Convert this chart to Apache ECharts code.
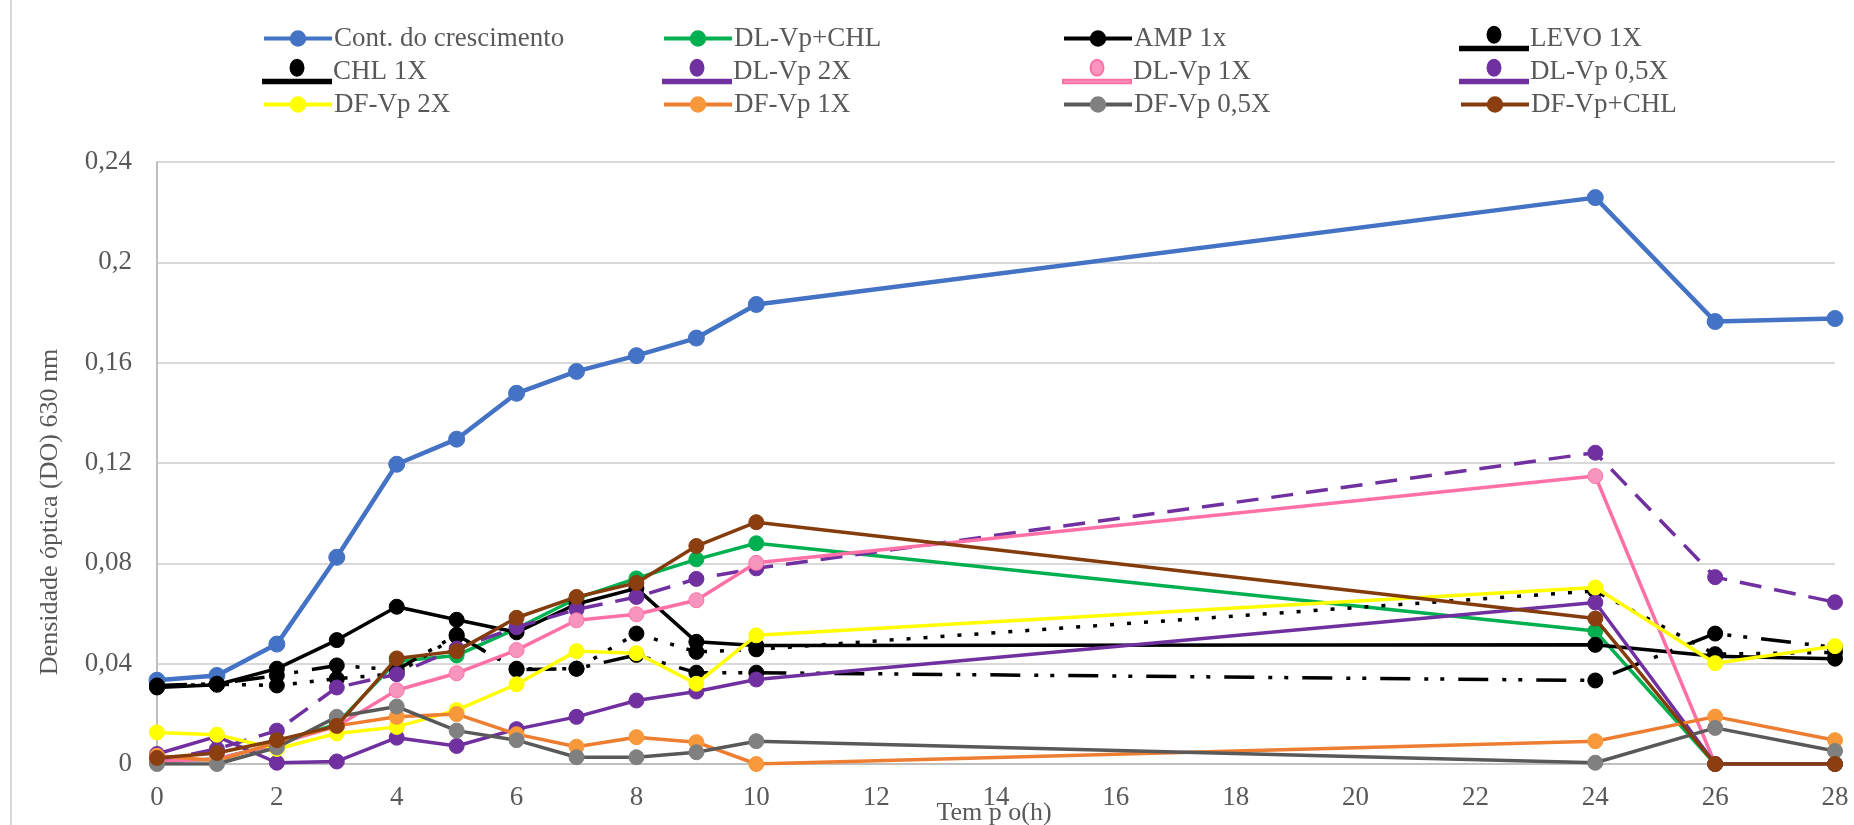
<!DOCTYPE html>
<html>
<head>
<meta charset="utf-8">
<script src="https://cdn.jsdelivr.net/npm/echarts@6/dist/echarts.min.js"></script>
<style>
html,body{margin:0;padding:0;background:#fff;}
#c{width:1854px;height:825px;}
</style>
</head>
<body>
<div id="c"></div>
<script>
// ---- data ----
const hours = [0, 1, 2, 3, 4, 5, 6, 7, 8, 9, 10, 24, 26, 28];
const yTicks = ['0', '0,04', '0,08', '0,12', '0,16', '0,2', '0,24'];
const xTicks = ['0','2','4','6','8','10','12','14','16','18','20','22','24','26','28'];

const contCrescimento = [0.0334, 0.0353, 0.0478, 0.0824, 0.1195, 0.1295, 0.1478, 0.1565, 0.1628, 0.1698, 0.1832, 0.2258, 0.1764, 0.1776];
const dlVpChl        = [0.001, 0.002, 0.008, 0.016, 0.041, 0.0433, 0.054, 0.066, 0.074, 0.0816, 0.088, 0.053, 0, 0];
const amp1x          = [0.0305, 0.0316, 0.038, 0.0494, 0.0627, 0.0575, 0.0525, 0.0638, 0.070, 0.0487, 0.0472, 0.0475, 0.043, 0.042];
const levo1x         = [0.0313, 0.032, 0.0353, 0.0393, 0.0375, 0.0515, 0.0376, 0.038, 0.0435, 0.0364, 0.0364, 0.0333, 0.052, 0.0465];
const chl1x          = [0.031, 0.0318, 0.0313, 0.034, 0.036, 0.051, 0.038, 0.038, 0.052, 0.0447, 0.0457, 0.069, 0.0438, 0.0445];
const dlVp2x         = [0.001, 0.006, 0.0133, 0.0305, 0.0358, 0.046, 0.0545, 0.0616, 0.0666, 0.0738, 0.078, 0.1241, 0.0745, 0.0645];
const dlVp1x         = [0.001, 0.002, 0.008, 0.015, 0.0294, 0.0362, 0.0454, 0.0573, 0.0597, 0.0653, 0.0802, 0.1148, 0, 0];
const dlVp05x        = [0.004, 0.011, 0.0005, 0.001, 0.0105, 0.0072, 0.0139, 0.0188, 0.0253, 0.0289, 0.0337, 0.0644, 0, 0];
const dfVp2x         = [0.0126, 0.0117, 0.006, 0.0122, 0.0148, 0.0215, 0.0318, 0.045, 0.0442, 0.032, 0.0513, 0.0704, 0.0402, 0.047];
const dfVp1x         = [0.0033, 0.0013, 0.0086, 0.0152, 0.0188, 0.0199, 0.0119, 0.0069, 0.0107, 0.0087, 0, 0.0091, 0.0189, 0.0095];
const dfVp05x        = [0, 0, 0.0066, 0.0188, 0.0229, 0.0133, 0.0095, 0.0027, 0.0027, 0.0047, 0.0091, 0.0005, 0.0144, 0.0052];
const dfVpChl        = [0.0024, 0.0044, 0.0095, 0.0152, 0.0421, 0.045, 0.0583, 0.0666, 0.0722, 0.0869, 0.0964, 0.058, 0, 0];

const seriesNames = ['Cont. do crescimento', 'DL-Vp+CHL', 'AMP 1x', 'LEVO 1X',
                     'CHL 1X', 'DL-Vp 2X', 'DL-Vp 1X', 'DL-Vp 0,5X',
                     'DF-Vp 2X', 'DF-Vp 1X', 'DF-Vp 0,5X', 'DF-Vp+CHL'];
const seriesValues = [contCrescimento, dlVpChl, amp1x, levo1x, chl1x, dlVp2x, dlVp1x, dlVp05x, dfVp2x, dfVp1x, dfVp05x, dfVpChl];

// ---- styles ----
const styles = [
  {line:'#4472C4', mark:'#4472C4', border:'#4472C4', w:4.5, type:'solid', size:16},
  {line:'#00B050', mark:'#00B050', border:'#00B050', w:3.5, type:'solid', size:15},
  {line:'#000000', mark:'#000000', border:'#000000', w:3.5, type:'solid', size:15},
  {line:'#000000', mark:'#000000', border:'#000000', w:3.5, type:[30,14,4,12,4,14], size:15, special:true},
  {line:'#000000', mark:'#000000', border:'#000000', w:3.5, type:[4,13], size:15, special:true},
  {line:'#7030A0', mark:'#7030A0', border:'#7030A0', w:3.5, type:[22,13], size:15, special:true},
  {line:'#FF71A6', mark:'#F895BE', border:'#FF71A6', w:3.5, type:'solid', size:15, special:true},
  {line:'#7030A0', mark:'#7030A0', border:'#7030A0', w:3.5, type:'solid', size:15, special:true},
  {line:'#FFFF00', mark:'#FFFF00', border:'#FFFF00', w:3.5, type:'solid', size:15},
  {line:'#ED7D31', mark:'#F7983A', border:'#F7983A', w:3.5, type:'solid', size:15},
  {line:'#595959', mark:'#808080', border:'#808080', w:3.5, type:'solid', size:15},
  {line:'#843C0C', mark:'#8B3E0F', border:'#8B3E0F', w:3.5, type:'solid', size:15}
];

const FONT = '"Liberation Serif", "Times New Roman", serif';
const TXT = '#595959';

const series = seriesNames.map((name, i) => {
  const s = styles[i];
  return {
    name: name,
    type: 'line',
    data: hours.map((h, k) => [h, seriesValues[i][k]]),
    symbol: 'circle',
    symbolSize: s.size,
    showSymbol: true,
    lineStyle: {color: s.line, width: s.w, type: s.type, cap: 'butt'},
    itemStyle: {color: s.mark, borderColor: s.border, borderWidth: 1},
    emphasis: {disabled: true},
    animation: false,
    z: 2 + i
  };
});

const colLeft = [262, 662, 1062, 1459];
const rowMid = [38, 71, 104];
const specialIcon = 'path://M0,22 L68,22 L68,25.5 L0,25.5 Z M27.5,10 A6.5,8 0 1,1 40.5,10 A6.5,8 0 1,1 27.5,10 Z';

const legends = seriesNames.map((name, i) => {
  const col = i % 4, row = Math.floor(i / 4);
  const s = styles[i];
  return {
    data: [s.special ? {name: name, icon: specialIcon} : {name: name}],
    left: colLeft[col],
    top: rowMid[row] - 13,
    itemWidth: 68,
    itemHeight: s.special ? 26 : 18,
    itemGap: 0,
    padding: 0,
    selectedMode: false,
    lineStyle: {width: 4, type: 'solid'},
    textStyle: {fontFamily: FONT, fontSize: 27, color: TXT, lineHeight: 26, padding: [0,0,0,-3]}
  };
});

const chart = echarts.init(document.getElementById('c'), null, {renderer: 'canvas'});
chart.setOption({
  animation: false,
  backgroundColor: '#ffffff',
  legend: legends,
  grid: {left: 157, right: 19, top: 162, bottom: 61, containLabel: false},
  xAxis: {
    type: 'value', min: 0, max: 28, interval: 2,
    axisLine: {show: true, lineStyle: {color: '#BFBFBF', width: 2}},
    axisTick: {show: false},
    splitLine: {show: false},
    axisLabel: {
      fontFamily: FONT, fontSize: 27, color: TXT, margin: 20,
      formatter: (v) => xTicks[Math.round(v / 2)]
    }
  },
  yAxis: {
    type: 'value', min: 0, max: 0.24, interval: 0.04,
    axisLine: {show: true, lineStyle: {color: '#BFBFBF', width: 2}},
    axisTick: {show: false},
    splitLine: {show: true, lineStyle: {color: '#D9D9D9', width: 2}},
    axisLabel: {
      fontFamily: FONT, fontSize: 27, color: TXT, margin: 25,
      formatter: (v) => yTicks[Math.round(v / 0.04)]
    }
  },
  graphic: [
    {type: 'line', shape: {x1: 11, y1: 0, x2: 11, y2: 825}, style: {stroke: '#D9D9D9', lineWidth: 2}, silent: true},
    {type: 'text', x: 50, y: 512, rotation: Math.PI / 2,
      style: {text: 'Densidade óptica (DO) 630 nm', font: '26px ' + FONT, fill: TXT, textAlign: 'center', textVerticalAlign: 'middle'}},
    {type: 'text', x: 994, y: 813,
      style: {text: 'Tem p o(h)', font: '26px ' + FONT, fill: TXT, textAlign: 'center', textVerticalAlign: 'middle'}}
  ],
  series: series
});
</script>
</body>
</html>
